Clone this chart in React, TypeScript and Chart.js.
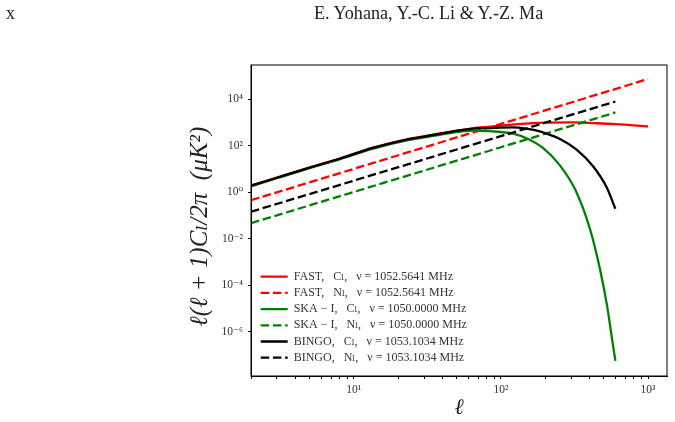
import React, { useEffect, useRef } from "react";
import { Chart, registerables } from "chart.js";

Chart.register(...registerables);

const headerLeft = "x";
const headerCenter = "E. Yohana, Y.-C. Li & Y.-Z. Ma";
const xTitle = "ℓ";
const yTitle = "ℓ(ℓ + 1)Cₗ/2π  (μK²)\u00a0\u00a0";

const xTickValues = [2,3,4,5,6,7,8,9,10,20,30,40,50,60,70,80,90,100,200,300,400,500,600,700,800,900,1000];
const yTickValues = [1e-6,1e-4,1e-2,1,1e2,1e4];
const superDigits: Record<string,string> = { "-":"⁻","0":"⁰","1":"¹","2":"²","3":"³","4":"⁴","5":"⁵","6":"⁶" };

const fastC: [number, number][] = [[2,1.95],[3,4.3],[5,11.6],[8,28],[13.5,82],[22.9,188],[38.4,335],[64.6,560],[85,660],[100,730],[130,850],[200,980],[300,1000],[430,930],[600,850],[1000,680]];
const skaC: [number, number][] = [[2,1.8],[3,4],[5,10.8],[8,26],[13.5,74],[22.9,168],[38.4,295],[64.6,445],[84,420],[121,330],[157,182],[193,80],[251,14.7],[320,1.3],[404,0.025],[472,0.00048],[527,0.000013],[570,0.00000048],[600,0.000000056]];
const bingoC: [number, number][] = [[2,1.9],[3,4.2],[5,11.4],[8,27.5],[13.5,80],[22.9,183],[38.4,325],[64.6,540],[84,575],[121,610],[148,540],[184,415],[204,330],[252,195],[327,68],[423,13],[524,1.6],[600,0.195]];
const fastN: [number, number][] = [[2,0.454],[5,2.66],[10,10.1],[30,84.5],[100,863],[300,7200],[1000,73500]];
const skaN: [number, number][] = [[2,0.047],[5,0.272],[10,1.03],[30,8.5],[100,86],[300,711],[600,2690]];
const bingoN: [number, number][] = [[2,0.145],[5,0.835],[10,3.15],[30,25.8],[100,258],[300,2110],[600,7940]];

const RED = "#ff0000";
const GREEN = "#008000";
const BLACK = "#000000";
const seriesLabels = [
  "FAST,   Cₗ,   ν = 1052.5641 MHz",
  "FAST,   Nₗ,   ν = 1052.5641 MHz",
  "SKA − I,   Cₗ,   ν = 1050.0000 MHz",
  "SKA − I,   Nₗ,   ν = 1050.0000 MHz",
  "BINGO,   Cₗ,   ν = 1053.1034 MHz",
  "BINGO,   Nₗ,   ν = 1053.1034 MHz",
];
const dash = [8.5, 3.7];
const SERIF = '"Liberation Serif", "DejaVu Serif", serif';

function toPts(a: [number, number][]) { return a.map(([x, y]) => ({ x, y })); }

export default function App() {
  const ref = useRef<HTMLCanvasElement>(null);
  useEffect(() => {
    const mk = (i: number, d: [number, number][], c: string, dashed: boolean) => ({
      label: seriesLabels[i], data: toPts(d), borderColor: c, backgroundColor: c,
      borderWidth: 2.3, borderDash: dashed ? dash : [], showLine: true, pointRadius: 0,
      cubicInterpolationMode: dashed ? "default" : "monotone", tension: dashed ? 0 : 0.4, fill: false, order: 5 - i,
    });
    const chart = new Chart(ref.current!, {
      type: "scatter",
      data: { datasets: [
        mk(0, fastC, RED, false), mk(1, fastN, RED, true),
        mk(2, skaC, GREEN, false), mk(3, skaN, GREEN, true),
        mk(4, bingoC, BLACK, false), mk(5, bingoN, BLACK, true),
      ] as any },
      options: {
        responsive: false, animation: false, devicePixelRatio: 1,
        layout: { padding: { left: 185, right: 8, top: 65, bottom: 1 } },
        plugins: {
          tooltip: { enabled: false },
          legend: {
            display: true, position: "chartArea", align: "start",
            labels: {
              usePointStyle: true, pointStyle: "line", pointStyleWidth: 27,
              boxWidth: 27, boxHeight: 8, padding: 4.2,
              color: "#333", font: { family: SERIF, size: 12 },
              generateLabels: (c: any) => c.data.datasets.map((d: any, i: number) => ({
                text: d.label, strokeStyle: d.borderColor, fillStyle: d.borderColor,
                lineWidth: 2.3, lineDash: d.borderDash, datasetIndex: i, fontColor: "#333", pointStyle: "line",
              })),
            },
          },
        },
        scales: {
          x: {
            type: "logarithmic", min: 2, max: 1346,
            title: { display: true, text: xTitle, font: { family: SERIF, size: 22, style: "italic" }, color: "#222", padding: { top: 2, bottom: 0 } },
            border: { color: "#000", width: 1 },
            grid: { drawOnChartArea: false, drawTicks: true, tickLength: 3, color: "#000" },
            afterBuildTicks: (s: any) => { s.ticks = xTickValues.map((value) => ({ value })); },
            afterFit: (s: any) => { s.height = 45; },
            ticks: {
              autoSkip: false, maxRotation: 0, color: "#333", padding: 4,
              font: { family: SERIF, size: 11.5 },
              callback: (v: any) => { const e = Math.log10(Number(v)); return Math.abs(e - Math.round(e)) < 1e-6 ? "10" + String(Math.round(e)).split("").map((c) => superDigits[c]).join("") : ""; },
            },
          },
          y: {
            type: "logarithmic", min: 1.26e-8, max: 2.95e5,
            title: { display: true, text: yTitle, font: { family: SERIF, size: 25, style: "italic" }, color: "#222", padding: { top: 0, bottom: 0 } },
            border: { color: "#000", width: 1 },
            grid: { drawOnChartArea: false, drawTicks: true, tickLength: 3, color: "#000" },
            afterBuildTicks: (s: any) => { s.ticks = yTickValues.map((value) => ({ value })); },
            afterFit: (s: any) => { s.width = 66; },
            ticks: {
              autoSkip: false, color: "#333", padding: 5,
              font: { family: SERIF, size: 11.5 },
              callback: (v: any) => "10" + String(Math.round(Math.log10(Number(v)))).split("").map((c) => superDigits[c]).join(""),
            },
          },
        },
      } as any,
      plugins: [{
        id: "frame",
        afterLayout(c: any) {
          const l = c.legend;
          const w = l.right - l.left, h = 110;
          l.left = 256.5; l.right = l.left + w; l.top = 266.5; l.bottom = l.top + h;
        },
        afterDraw(c: any) {
          const { ctx, chartArea: a } = c;
          ctx.save(); ctx.strokeStyle = "#000"; ctx.lineWidth = 1;
          ctx.strokeRect(a.left, a.top, a.right - a.left, a.bottom - a.top);
          ctx.restore();
        },
      }],
    });
    return () => chart.destroy();
  }, []);
  return (
    <div style={{ position: "absolute", left: 0, top: 0, width: 675, height: 422, fontFamily: SERIF, color: "#222" }}>
      <canvas ref={ref} width={675} height={422} style={{ position: "absolute", left: 0, top: 0, width: 675, height: 422 }} />
      <div style={{ position: "absolute", left: 6, top: 3, fontSize: 18 }}>{headerLeft}</div>
      <div style={{ position: "absolute", left: 314, top: 3, fontSize: 18.15 }}>{headerCenter}</div>
    </div>
  );
}
